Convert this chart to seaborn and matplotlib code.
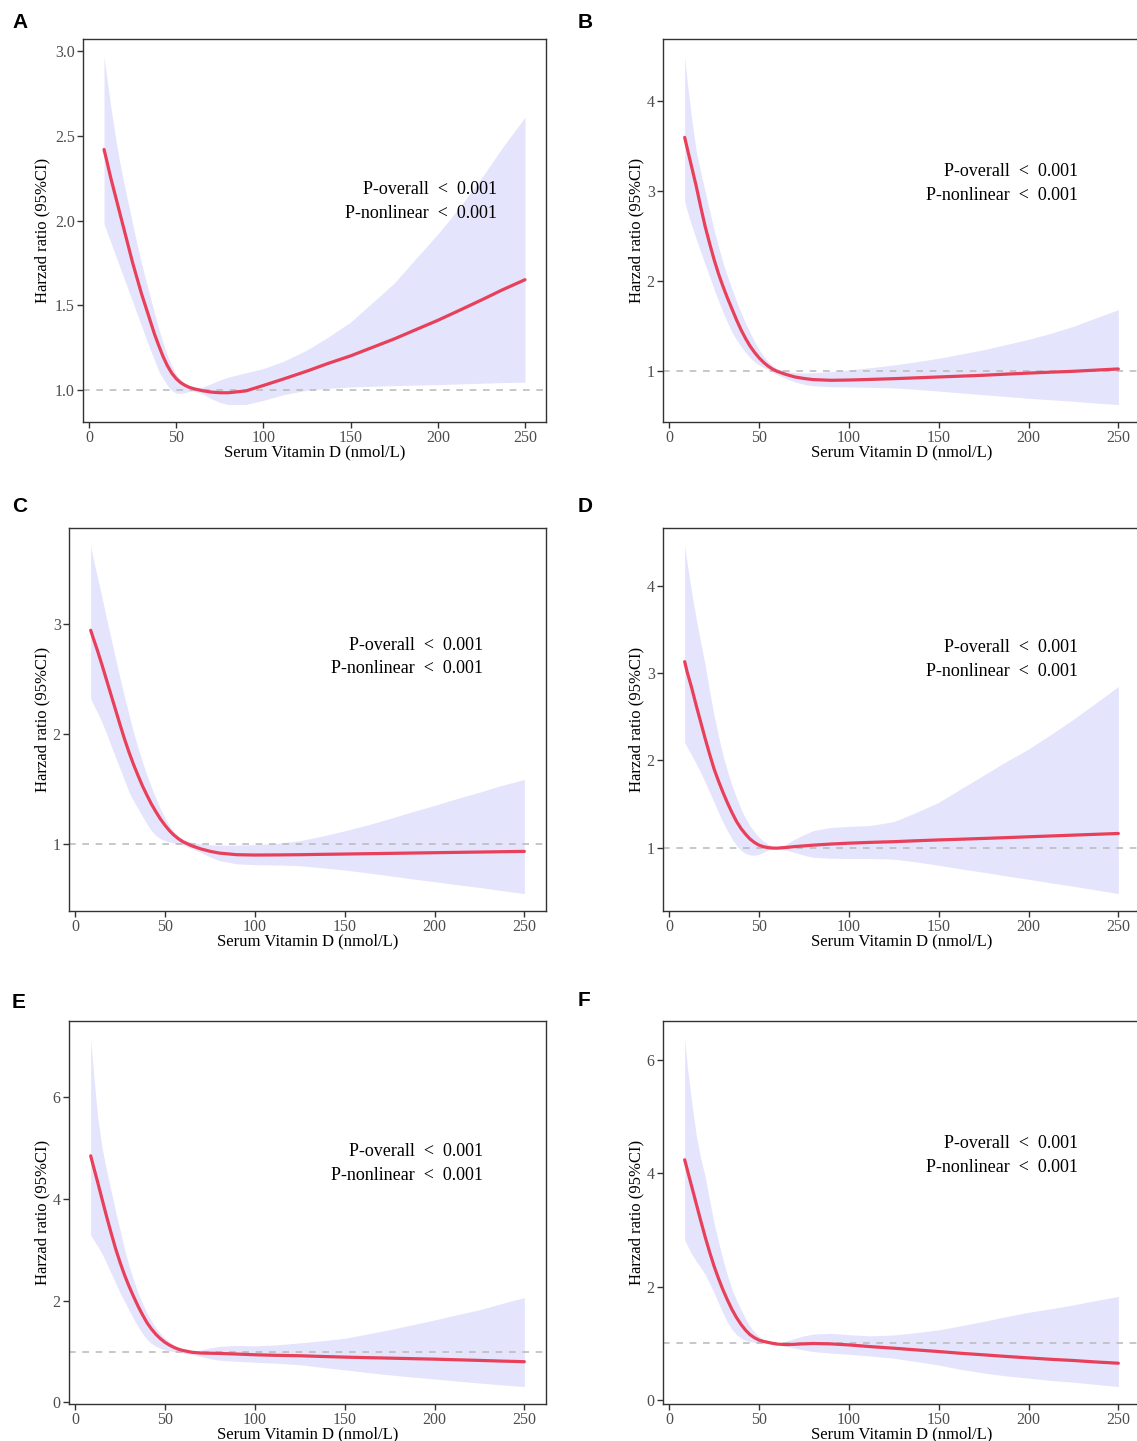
import numpy as np
import pandas as pd
import matplotlib
matplotlib.use("Agg")
import matplotlib.pyplot as plt
import seaborn as sns

# ---------------- data ----------------
vitd = [8.6, 10, 12.5, 15, 17.5, 20, 22.5, 25, 27.5, 30, 32.5, 35, 37.5, 40, 42.5, 45, 47.5, 50, 52.5, 55, 57.5, 60,
        65, 70, 75, 80, 90, 100, 112, 125, 137, 150, 162, 175, 187, 200, 212, 225, 237, 250]

est_A = [2.42, 2.36, 2.25, 2.15, 2.05, 1.95, 1.85, 1.75, 1.66, 1.57, 1.49, 1.41, 1.33, 1.26, 1.195, 1.14, 1.097, 1.065, 1.042, 1.026, 1.014, 1.006,
         0.994, 0.986, 0.982, 0.982, 0.993, 1.025, 1.065, 1.11, 1.155, 1.20, 1.248, 1.30, 1.353, 1.41, 1.467, 1.53, 1.59, 1.65]
hi_A = [2.97, 2.86, 2.67, 2.50, 2.35, 2.22, 2.10, 1.98, 1.86, 1.75, 1.65, 1.55, 1.455, 1.36, 1.275, 1.20, 1.14, 1.09, 1.057, 1.035, 1.02, 1.012,
        1.015, 1.035, 1.057, 1.075, 1.10, 1.125, 1.17, 1.235, 1.31, 1.40, 1.51, 1.63, 1.77, 1.92, 2.07, 2.25, 2.43, 2.61]
lo_A = [1.98, 1.94, 1.87, 1.80, 1.73, 1.66, 1.59, 1.52, 1.45, 1.38, 1.31, 1.24, 1.175, 1.11, 1.065, 1.025, 0.995, 0.98, 0.978, 0.983, 0.99, 0.992,
        0.975, 0.947, 0.925, 0.912, 0.913, 0.937, 0.972, 0.997, 1.008, 1.016, 1.02, 1.024, 1.027, 1.03, 1.034, 1.038, 1.042, 1.045]

est_B = [3.60, 3.48, 3.27, 3.06, 2.83, 2.61, 2.42, 2.24, 2.08, 1.94, 1.81, 1.69, 1.57, 1.46, 1.365, 1.28, 1.21, 1.15, 1.10, 1.058, 1.025, 1.0,
         0.965, 0.937, 0.92, 0.908, 0.90, 0.903, 0.91, 0.918, 0.927, 0.937, 0.946, 0.956, 0.968, 0.98, 0.99, 1.0, 1.013, 1.026]
hi_B = [4.50, 4.22, 3.80, 3.45, 3.21, 3.0, 2.78, 2.57, 2.38, 2.20, 2.05, 1.91, 1.775, 1.65, 1.535, 1.43, 1.33, 1.24, 1.17, 1.11, 1.065, 1.03,
        1.0, 0.985, 0.982, 0.985, 0.997, 1.015, 1.04, 1.07, 1.105, 1.145, 1.19, 1.24, 1.295, 1.355, 1.42, 1.50, 1.59, 1.685]
lo_B = [2.89, 2.78, 2.62, 2.47, 2.33, 2.19, 2.05, 1.91, 1.78, 1.65, 1.54, 1.43, 1.35, 1.275, 1.21, 1.15, 1.105, 1.07, 1.043, 1.02, 0.99, 0.963,
        0.92, 0.882, 0.855, 0.84, 0.828, 0.826, 0.822, 0.815, 0.80, 0.78, 0.76, 0.74, 0.72, 0.70, 0.684, 0.667, 0.648, 0.63]

est_C = [2.94, 2.87, 2.75, 2.62, 2.485, 2.35, 2.215, 2.08, 1.95, 1.83, 1.72, 1.62, 1.525, 1.44, 1.36, 1.29, 1.225, 1.17, 1.12, 1.08, 1.047, 1.02,
         0.983, 0.955, 0.934, 0.918, 0.903, 0.90, 0.901, 0.903, 0.906, 0.909, 0.912, 0.915, 0.918, 0.921, 0.924, 0.927, 0.93, 0.933]
hi_C = [3.71, 3.59, 3.41, 3.23, 3.04, 2.86, 2.68, 2.50, 2.33, 2.17, 2.01, 1.87, 1.74, 1.62, 1.51, 1.41, 1.315, 1.235, 1.165, 1.11, 1.07, 1.045,
        1.015, 1.0, 0.993, 0.99, 0.99, 0.994, 1.005, 1.03, 1.07, 1.12, 1.17, 1.23, 1.29, 1.35, 1.41, 1.47, 1.53, 1.585]
lo_C = [2.32, 2.27, 2.19, 2.10, 2.00, 1.89, 1.785, 1.68, 1.575, 1.47, 1.39, 1.32, 1.25, 1.18, 1.12, 1.076, 1.048, 1.03, 1.018, 1.01, 1.0, 0.99,
        0.957, 0.922, 0.883, 0.85, 0.82, 0.812, 0.81, 0.803, 0.785, 0.764, 0.74, 0.712, 0.685, 0.658, 0.632, 0.606, 0.578, 0.55]

est_D = [3.13, 3.01, 2.83, 2.63, 2.44, 2.25, 2.07, 1.90, 1.76, 1.63, 1.51, 1.40, 1.30, 1.22, 1.155, 1.10, 1.06, 1.03, 1.012, 1.002, 0.997, 0.996,
         1.004, 1.014, 1.022, 1.03, 1.043, 1.053, 1.062, 1.07, 1.08, 1.09, 1.098, 1.107, 1.116, 1.126, 1.135, 1.145, 1.154, 1.164]
hi_D = [4.46, 4.25, 3.92, 3.62, 3.35, 3.09, 2.79, 2.51, 2.27, 2.05, 1.87, 1.71, 1.57, 1.44, 1.335, 1.25, 1.18, 1.12, 1.075, 1.04, 1.015, 1.0,
        1.04, 1.10, 1.15, 1.195, 1.233, 1.245, 1.255, 1.30, 1.40, 1.52, 1.67, 1.83, 1.98, 2.13, 2.29, 2.47, 2.65, 2.845]
lo_D = [2.20, 2.15, 2.06, 1.96, 1.86, 1.75, 1.635, 1.52, 1.40, 1.29, 1.19, 1.10, 1.025, 0.97, 0.935, 0.918, 0.915, 0.925, 0.95, 0.975, 0.988, 0.99,
        0.972, 0.946, 0.915, 0.892, 0.88, 0.878, 0.878, 0.87, 0.84, 0.80, 0.76, 0.72, 0.68, 0.64, 0.60, 0.56, 0.52, 0.476]

est_E = [4.85, 4.66, 4.33, 3.99, 3.65, 3.33, 3.02, 2.75, 2.50, 2.28, 2.08, 1.89, 1.72, 1.565, 1.44, 1.335, 1.25, 1.18, 1.125, 1.08, 1.045, 1.02,
         0.985, 0.97, 0.966, 0.963, 0.95, 0.936, 0.925, 0.917, 0.903, 0.89, 0.88, 0.87, 0.86, 0.85, 0.838, 0.825, 0.812, 0.80]
hi_E = [7.16, 6.55, 5.60, 5.00, 4.55, 4.15, 3.75, 3.38, 3.00, 2.68, 2.40, 2.15, 1.94, 1.75, 1.595, 1.46, 1.35, 1.26, 1.19, 1.13, 1.075, 1.035,
        1.005, 1.03, 1.07, 1.10, 1.12, 1.11, 1.13, 1.17, 1.21, 1.26, 1.34, 1.43, 1.52, 1.62, 1.72, 1.82, 1.94, 2.06]
lo_E = [3.29, 3.21, 3.07, 2.92, 2.73, 2.54, 2.345, 2.15, 1.98, 1.81, 1.645, 1.49, 1.35, 1.235, 1.155, 1.10, 1.06, 1.033, 1.013, 1.0, 0.985, 0.97,
        0.94, 0.90, 0.86, 0.83, 0.808, 0.79, 0.77, 0.74, 0.69, 0.64, 0.59, 0.54, 0.50, 0.46, 0.42, 0.38, 0.345, 0.31]

est_F = [4.24, 4.07, 3.77, 3.47, 3.17, 2.88, 2.61, 2.36, 2.14, 1.94, 1.76, 1.595, 1.455, 1.335, 1.235, 1.155, 1.10, 1.06, 1.037, 1.02, 1.003, 0.99,
         0.98, 0.986, 0.994, 1.0, 0.993, 0.975, 0.945, 0.917, 0.888, 0.858, 0.828, 0.80, 0.773, 0.746, 0.722, 0.70, 0.675, 0.652]
hi_F = [6.38, 5.90, 5.25, 4.68, 4.27, 3.94, 3.52, 3.12, 2.78, 2.47, 2.19, 1.95, 1.76, 1.59, 1.435, 1.30, 1.20, 1.125, 1.07, 1.035, 1.012, 1.0,
        1.04, 1.09, 1.135, 1.165, 1.18, 1.155, 1.135, 1.15, 1.19, 1.24, 1.31, 1.39, 1.47, 1.55, 1.61, 1.68, 1.755, 1.83]
lo_F = [2.83, 2.73, 2.58, 2.45, 2.34, 2.22, 2.06, 1.89, 1.71, 1.53, 1.37, 1.245, 1.155, 1.095, 1.055, 1.032, 1.022, 1.017, 1.01, 1.0, 0.993, 0.985,
        0.952, 0.917, 0.885, 0.858, 0.83, 0.81, 0.78, 0.74, 0.685, 0.62, 0.545, 0.48, 0.43, 0.39, 0.35, 0.317, 0.28, 0.24]

panel_letters = ["A", "B", "C", "D", "E", "F"]
yticks_list = [[1.0, 1.5, 2.0, 2.5, 3.0], [1, 2, 3, 4], [1, 2, 3], [1, 2, 3, 4], [0, 2, 4, 6], [0, 2, 4, 6]]
ytick_fmt = ["{:.1f}", "{:g}", "{:g}", "{:g}", "{:g}", "{:g}"]
xticks = [0, 50, 100, 150, 200, 250]
p_lines = ["P-overall  <  0.001", "P-nonlinear  <  0.001"]
xlabel = "Serum Vitamin D (nmol/L)"
ylabel = "Harzad ratio (95%CI)"

series = {
    "A": (est_A, lo_A, hi_A), "B": (est_B, lo_B, hi_B), "C": (est_C, lo_C, hi_C),
    "D": (est_D, lo_D, hi_D), "E": (est_E, lo_E, hi_E), "F": (est_F, lo_F, hi_F),
}
for k, (e, l_, h_) in series.items():
    assert len(e) == len(l_) == len(h_) == len(vitd), k

# ---------------- style ----------------
sns.set_theme(style="white")
plt.rcParams["font.family"] = ["Liberation Serif", "DejaVu Serif"]

W, H = 1137, 1441
fig = plt.figure(figsize=(W / 100, H / 100), dpi=100)

# frames in pixels: left, right, top, bottom
frames = {
    "A": (83, 546, 39, 422), "B": (663, 1140, 39, 422),
    "C": (69, 546, 528, 911), "D": (663, 1140, 528, 911),
    "E": (69, 546, 1021, 1404), "F": (663, 1140, 1021, 1404),
}
# right edge x and the two line centres (pixels)
text_px = {
    "A": (497, 190, 213), "B": (1078, 172, 195), "C": (483, 645, 668),
    "D": (1078, 648, 672), "E": (483, 1152, 1175), "F": (1078, 1143, 1167),
}
ylab_x = {"A": 42, "B": 636, "C": 42, "D": 636, "E": 42, "F": 636}
letter_pos = {"A": (12, 22), "B": (578, 22), "C": (12, 507), "D": (578, 507), "E": (12, 1003), "F": (578, 1001)}

band_col = "#E4E4FC"
line_col = "#E8405A"
grey_txt = "#4D4D4D"

for i, key in enumerate(panel_letters):
    l, r, t, b = frames[key]
    aw, ah = r - l, b - t
    ax = fig.add_axes([l / W, 1 - b / H, aw / W, ah / H])
    est, lo, hi = series[key]
    df = pd.DataFrame({"x": vitd, "est": est, "lo": lo, "hi": hi})
    ax.fill_between(df["x"], df["lo"], df["hi"], color=band_col, lw=0, zorder=1)
    sns.lineplot(data=df, x="x", y="est", ax=ax, color=line_col, lw=2.3, zorder=3)
    ax.axhline(1, color="#BDBDBD", lw=1.2, ls=(0, (4, 4)), zorder=2)

    # ggplot-like 5% expansion
    xr = max(vitd) - min(vitd)
    ax.set_xlim(min(vitd) - 0.05 * xr, max(vitd) + 0.05 * xr)
    ymin, ymax = min(lo), max(hi)
    yr = ymax - ymin
    ax.set_ylim(ymin - 0.05 * yr, ymax + 0.05 * yr)

    ax.set_xticks(xticks)
    ax.set_xticklabels([str(v) for v in xticks])
    yt = yticks_list[i]
    ax.set_yticks(yt)
    ax.set_yticklabels([ytick_fmt[i].format(v) for v in yt])
    ax.tick_params(axis="both", which="both", direction="out", length=4, width=1.0,
                   color="#333333", labelcolor=grey_txt, labelsize=11.5, pad=2,
                   bottom=True, left=True)
    for sp in ax.spines.values():
        sp.set_color("#333333")
        sp.set_linewidth(1.0)
        sp.set_visible(True)

    ax.set_xlabel(xlabel, fontsize=12, color="black", va="center")
    ax.xaxis.set_label_coords(0.5, -30 / ah)
    ax.set_ylabel(ylabel, fontsize=12, color="black", va="center")
    ax.yaxis.set_label_coords((ylab_x[key] - l) / aw, 0.5)

    tx, ty1, ty2 = text_px[key]
    for line, ty in zip(p_lines, (ty1, ty2)):
        ax.text((tx - l) / aw, (b - ty) / ah, line, transform=ax.transAxes, ha="right", va="center",
                fontsize=13, color="black")

    lx, ly = letter_pos[key]
    fig.text(lx / W, 1 - ly / H, key, fontsize=15, fontweight="bold",
             family=["Liberation Sans", "DejaVu Sans"], ha="left", va="center", color="black")

fig.savefig("out.png", dpi=100, facecolor="white")
